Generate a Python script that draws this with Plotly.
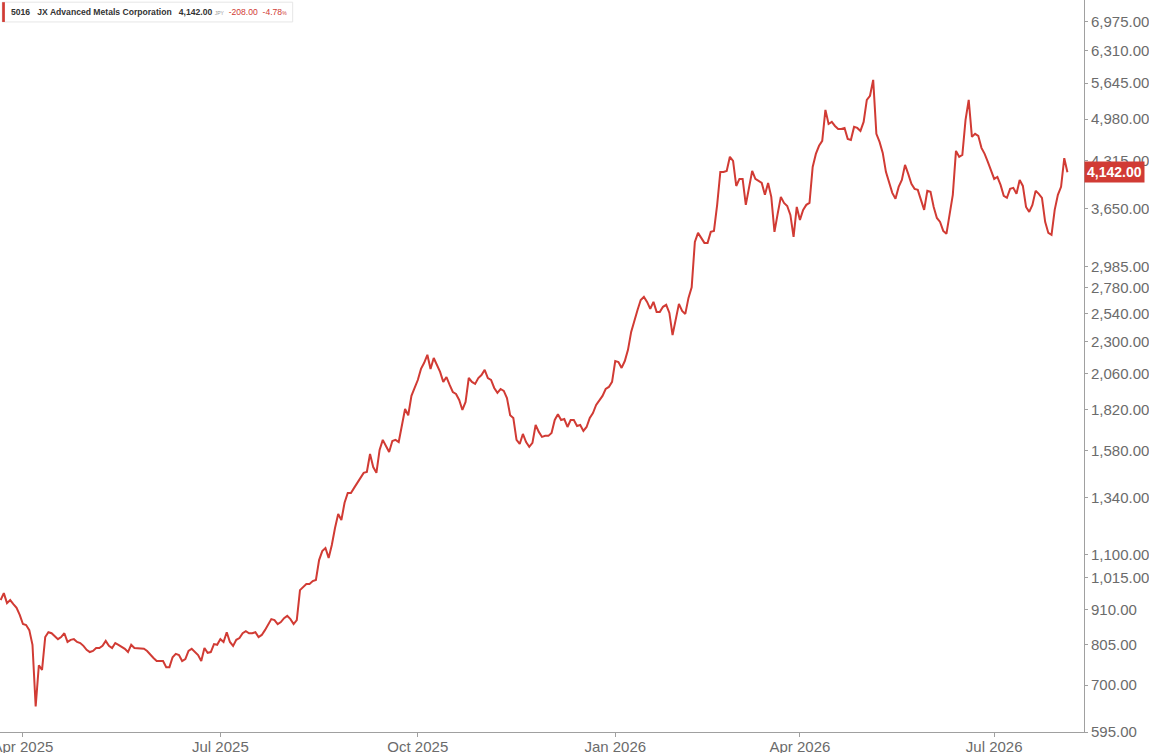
import numpy as np
import pandas as pd
import plotly.graph_objects as go

# Tokyo exchange closed days in the charted window
jp_holidays = [
    "2025-04-29", "2025-05-05", "2025-05-06", "2025-07-21", "2025-08-11",
    "2025-09-15", "2025-09-23", "2025-10-13", "2025-11-03", "2025-11-24",
    "2025-12-31", "2026-01-01", "2026-01-02", "2026-01-12", "2026-02-11",
    "2026-02-23", "2026-03-20", "2026-04-29", "2026-05-04", "2026-05-05",
    "2026-05-06", "2026-07-20",
]

# daily close, JPY
close_prices = [
    940, 963, 930, 940, 927, 915, 893, 865, 862, 847,
    805, 650, 750, 738, 827, 841, 838, 830, 821, 827,
    838, 813, 819, 821, 813, 810, 802, 791, 785, 788,
    796, 796, 802, 816, 802, 796, 810, 805, 799, 794,
    785, 805, 796, 796, 796, 794, 788, 777, 769, 761,
    761, 761, 745, 745, 771, 780, 777, 761, 766, 788,
    794, 785, 777, 761, 796, 783, 785, 807, 805, 821,
    813, 841, 813, 802, 819, 824, 838, 844, 838, 838,
    841, 827, 833, 847, 862, 880, 877, 865, 871, 883,
    890, 880, 865, 877, 973, 984, 994, 994, 1004, 1008,
    1080, 1114, 1126, 1088, 1138, 1207, 1267, 1241, 1317, 1363,
    1363, 1387, 1411, 1441, 1461, 1466, 1560, 1491, 1461, 1582,
    1638, 1604, 1571, 1632, 1638, 1626, 1725, 1823, 1784, 1908,
    1961, 2016, 2095, 2140, 2200, 2095, 2176, 2122, 2073, 2003,
    2037, 1982, 1934, 1921, 1881, 1817, 1868, 2030, 2003, 1989,
    2030, 2051, 2088, 2030, 2016, 1961, 1928, 1954, 1941, 1894,
    1784, 1767, 1638, 1615, 1672, 1626, 1599, 1621, 1725, 1684,
    1655, 1661, 1661, 1678, 1755, 1790, 1755, 1761, 1713, 1755,
    1755, 1719, 1725, 1690, 1713, 1767, 1798, 1849, 1881, 1908,
    1954, 1968, 2003, 2153, 2146, 2102, 2153, 2238, 2382, 2483,
    2570, 2661, 2689, 2643, 2579, 2643, 2553, 2553, 2598, 2616,
    2544, 2356, 2500, 2625, 2562, 2535, 2680, 2780, 3254, 3357,
    3300, 3243, 3243, 3369, 3380, 3700, 4148, 4148, 4162, 4370,
    4310, 3950, 4048, 4048, 3700, 3924, 4162, 4048, 4020, 3992,
    3831, 3992, 3804, 3369, 3586, 3804, 3725, 3686, 3573, 3311,
    3673, 3512, 3636, 3700, 3725, 4220, 4415, 4540, 4619, 5143,
    4897, 4932, 4864, 4814, 4814, 4831, 4651, 4635, 4848, 4831,
    4781, 4932, 5324, 5400, 5707, 4733, 4603, 4430, 4148, 3992,
    3857, 3778, 3938, 4034, 4250, 4120, 3979, 3911, 3897, 3764,
    3636, 3884, 3870, 3673, 3536, 3488, 3380, 3346, 3611, 3831,
    4461, 4370, 4400, 4968, 5324, 4683, 4733, 4700, 4508, 4415,
    4294, 4162, 4048, 4076, 3965, 3818, 3791, 3911, 3924, 3844,
    4034, 3951, 3673, 3611, 3700, 3884, 3844, 3791, 3488, 3357,
    3334, 3636, 3831, 3938, 4350, 4142,
]

y_ticks = [595, 700, 805, 910, 1015, 1100, 1340, 1580, 1820, 2060,
           2300, 2540, 2780, 2985, 3650, 4315, 4980, 5645, 6310, 6975]
x_tick_months = ["2025-04-01", "2025-07-01", "2025-10-01",
                 "2026-01-01", "2026-04-01", "2026-07-01"]

RED = "#d13b34"
GREY_TXT = "#6b6b6b"

trading_days = pd.bdate_range("2025-03-21", "2026-08-04", freq="C",
                              holidays=jp_holidays)
n = min(len(trading_days), len(close_prices))
trading_days = trading_days[:n]
prices = close_prices[:n]
idx = np.arange(n)

# x axis is trading-day based (no gaps), ticks on first session of each quarter
tick_pos = [int(trading_days.searchsorted(pd.Timestamp(m))) for m in x_tick_months]
tick_txt = [pd.Timestamp(m).strftime("%b %Y") for m in x_tick_months]

last = prices[-1]
chg = prices[-1] - prices[-2]
pct = chg / prices[-2] * 100

fig = go.Figure()
fig.add_trace(go.Scatter(
    x=idx, y=prices, mode="lines",
    line=dict(color=RED, width=2),
    customdata=trading_days.strftime("%Y-%m-%d"),
    hovertemplate="%{customdata}<br>%{y:,.2f}<extra></extra>",
))

fig.update_layout(
    width=1149, height=753,
    margin=dict(l=0, r=65, t=0, b=21),
    paper_bgcolor="white", plot_bgcolor="white",
    showlegend=False,
    font=dict(family="Liberation Sans, Arial, sans-serif", size=15, color=GREY_TXT),
    xaxis=dict(
        range=[-0.2, 340.2],
        tickvals=tick_pos, ticktext=tick_txt,
        automargin=False, ticklabeloverflow="allow",
        showgrid=False, zeroline=False,
        showline=True, linecolor="#a0a0a0", linewidth=1,
        ticks="outside", ticklen=4, tickcolor="#a0a0a0",
        ticklabelstandoff=-3,
        tickfont=dict(size=15, color=GREY_TXT),
    ),
    yaxis=dict(
        type="log", side="right",
        range=[np.log10(595), np.log10(7527)],
        tickvals=y_ticks, tickformat=",.2f",
        automargin=False, ticklabeloverflow="allow",
        showgrid=False, zeroline=False,
        showline=True, linecolor="#a0a0a0", linewidth=1,
        ticks="outside", ticklen=3, tickcolor="#a0a0a0",
        ticklabelstandoff=0,
        tickfont=dict(size=15, color=GREY_TXT),
    ),
)

# header box top-left
fig.add_shape(type="rect", xref="paper", yref="paper",
              x0=0.002, x1=0.27, y0=0.970, y1=0.997,
              line=dict(color="#e6e6e6", width=1), fillcolor="white")
fig.add_shape(type="rect", xref="paper", yref="paper",
              x0=0.002, x1=0.0045, y0=0.970, y1=0.997,
              line=dict(width=0), fillcolor=RED)
header = (
    "<b>5016</b>   <b>JX Advanced Metals Corporation</b>   "
    f"<b>{last:,.2f}</b> <span style='font-size:5px;color:#999'>JPY</span>  "
    f"<span style='color:{RED}'>{chg:,.2f}</span>  "
    f"<span style='color:{RED}'>{pct:.2f}</span>"
    f"<span style='font-size:5px;color:{RED}'>%</span>"
)
fig.add_annotation(xref="paper", yref="paper", x=0.008, y=0.9835,
                   xanchor="left", yanchor="middle", showarrow=False,
                   text=header, font=dict(size=8.6, color="#333333"))

# last price tag on the axis
fig.add_annotation(xref="paper", yref="y", x=1.0, y=np.log10(last),
                   xanchor="left", yanchor="middle", showarrow=False,
                   text=f"<b>{last:,.2f}</b>", bgcolor=RED,
                   font=dict(size=14, color="white"), borderpad=2)

# page body has a default margin; drop it so the chart sits at the window corner
fig.write_html("out.html", config={"displayModeBar": False},
               post_script="document.body.style.margin='0px';")
